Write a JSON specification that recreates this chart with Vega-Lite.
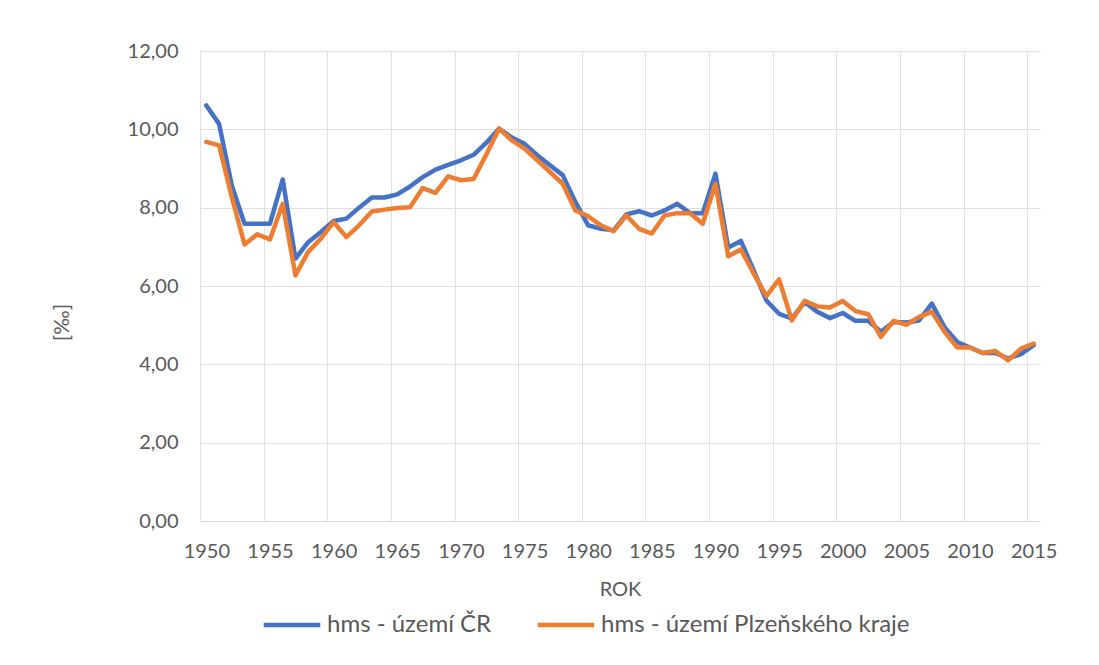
{
  "$schema": "https://vega.github.io/schema/vega-lite/v6.json",
  "width": 840,
  "height": 470,
  "autosize": "none",
  "padding": {"left": 200, "top": 51, "right": 59, "bottom": 144},
  "background": "white",
  "config": {"view": {"stroke": null}, "font": "Lato"},
  "data": {
    "values": [
      {"rok": 1950, "serie": "hms - území ČR", "hodnota": 10.61},
      {"rok": 1951, "serie": "hms - území ČR", "hodnota": 10.14},
      {"rok": 1952, "serie": "hms - území ČR", "hodnota": 8.57},
      {"rok": 1953, "serie": "hms - území ČR", "hodnota": 7.59},
      {"rok": 1954, "serie": "hms - území ČR", "hodnota": 7.59},
      {"rok": 1955, "serie": "hms - území ČR", "hodnota": 7.59},
      {"rok": 1956, "serie": "hms - území ČR", "hodnota": 8.72},
      {"rok": 1957, "serie": "hms - území ČR", "hodnota": 6.70},
      {"rok": 1958, "serie": "hms - území ČR", "hodnota": 7.12},
      {"rok": 1959, "serie": "hms - území ČR", "hodnota": 7.38},
      {"rok": 1960, "serie": "hms - území ČR", "hodnota": 7.66},
      {"rok": 1961, "serie": "hms - území ČR", "hodnota": 7.72},
      {"rok": 1962, "serie": "hms - území ČR", "hodnota": 8.00},
      {"rok": 1963, "serie": "hms - území ČR", "hodnota": 8.26},
      {"rok": 1964, "serie": "hms - území ČR", "hodnota": 8.26},
      {"rok": 1965, "serie": "hms - území ČR", "hodnota": 8.34},
      {"rok": 1966, "serie": "hms - území ČR", "hodnota": 8.54},
      {"rok": 1967, "serie": "hms - území ČR", "hodnota": 8.78},
      {"rok": 1968, "serie": "hms - území ČR", "hodnota": 8.97},
      {"rok": 1969, "serie": "hms - území ČR", "hodnota": 9.09},
      {"rok": 1970, "serie": "hms - území ČR", "hodnota": 9.21},
      {"rok": 1971, "serie": "hms - území ČR", "hodnota": 9.35},
      {"rok": 1972, "serie": "hms - území ČR", "hodnota": 9.66},
      {"rok": 1973, "serie": "hms - území ČR", "hodnota": 10.02},
      {"rok": 1974, "serie": "hms - území ČR", "hodnota": 9.79},
      {"rok": 1975, "serie": "hms - území ČR", "hodnota": 9.63},
      {"rok": 1976, "serie": "hms - území ČR", "hodnota": 9.34},
      {"rok": 1977, "serie": "hms - území ČR", "hodnota": 9.08},
      {"rok": 1978, "serie": "hms - území ČR", "hodnota": 8.83},
      {"rok": 1979, "serie": "hms - území ČR", "hodnota": 8.14},
      {"rok": 1980, "serie": "hms - území ČR", "hodnota": 7.55},
      {"rok": 1981, "serie": "hms - území ČR", "hodnota": 7.46},
      {"rok": 1982, "serie": "hms - území ČR", "hodnota": 7.42},
      {"rok": 1983, "serie": "hms - území ČR", "hodnota": 7.83},
      {"rok": 1984, "serie": "hms - území ČR", "hodnota": 7.91},
      {"rok": 1985, "serie": "hms - území ČR", "hodnota": 7.80},
      {"rok": 1986, "serie": "hms - území ČR", "hodnota": 7.93},
      {"rok": 1987, "serie": "hms - území ČR", "hodnota": 8.10},
      {"rok": 1988, "serie": "hms - území ČR", "hodnota": 7.86},
      {"rok": 1989, "serie": "hms - území ČR", "hodnota": 7.86},
      {"rok": 1990, "serie": "hms - území ČR", "hodnota": 8.87},
      {"rok": 1991, "serie": "hms - území ČR", "hodnota": 6.98},
      {"rok": 1992, "serie": "hms - území ČR", "hodnota": 7.15},
      {"rok": 1993, "serie": "hms - území ČR", "hodnota": 6.40},
      {"rok": 1994, "serie": "hms - území ČR", "hodnota": 5.63},
      {"rok": 1995, "serie": "hms - území ČR", "hodnota": 5.29},
      {"rok": 1996, "serie": "hms - území ČR", "hodnota": 5.17},
      {"rok": 1997, "serie": "hms - území ČR", "hodnota": 5.59},
      {"rok": 1998, "serie": "hms - území ČR", "hodnota": 5.34},
      {"rok": 1999, "serie": "hms - území ČR", "hodnota": 5.18},
      {"rok": 2000, "serie": "hms - území ČR", "hodnota": 5.31},
      {"rok": 2001, "serie": "hms - území ČR", "hodnota": 5.11},
      {"rok": 2002, "serie": "hms - území ČR", "hodnota": 5.11},
      {"rok": 2003, "serie": "hms - území ČR", "hodnota": 4.83},
      {"rok": 2004, "serie": "hms - území ČR", "hodnota": 5.08},
      {"rok": 2005, "serie": "hms - území ČR", "hodnota": 5.07},
      {"rok": 2006, "serie": "hms - území ČR", "hodnota": 5.12},
      {"rok": 2007, "serie": "hms - území ČR", "hodnota": 5.55},
      {"rok": 2008, "serie": "hms - území ČR", "hodnota": 4.95},
      {"rok": 2009, "serie": "hms - území ČR", "hodnota": 4.57},
      {"rok": 2010, "serie": "hms - území ČR", "hodnota": 4.43},
      {"rok": 2011, "serie": "hms - území ČR", "hodnota": 4.29},
      {"rok": 2012, "serie": "hms - území ČR", "hodnota": 4.29},
      {"rok": 2013, "serie": "hms - území ČR", "hodnota": 4.15},
      {"rok": 2014, "serie": "hms - území ČR", "hodnota": 4.26},
      {"rok": 2015, "serie": "hms - území ČR", "hodnota": 4.49},
      {"rok": 1950, "serie": "hms - území Plzeňského kraje", "hodnota": 9.68},
      {"rok": 1951, "serie": "hms - území Plzeňského kraje", "hodnota": 9.59},
      {"rok": 1952, "serie": "hms - území Plzeňského kraje", "hodnota": 8.27},
      {"rok": 1953, "serie": "hms - území Plzeňského kraje", "hodnota": 7.06},
      {"rok": 1954, "serie": "hms - území Plzeňského kraje", "hodnota": 7.32},
      {"rok": 1955, "serie": "hms - území Plzeňského kraje", "hodnota": 7.19},
      {"rok": 1956, "serie": "hms - území Plzeňského kraje", "hodnota": 8.10},
      {"rok": 1957, "serie": "hms - území Plzeňského kraje", "hodnota": 6.27},
      {"rok": 1958, "serie": "hms - území Plzeňského kraje", "hodnota": 6.87},
      {"rok": 1959, "serie": "hms - území Plzeňského kraje", "hodnota": 7.21},
      {"rok": 1960, "serie": "hms - území Plzeňského kraje", "hodnota": 7.63},
      {"rok": 1961, "serie": "hms - území Plzeňského kraje", "hodnota": 7.25},
      {"rok": 1962, "serie": "hms - území Plzeňského kraje", "hodnota": 7.55},
      {"rok": 1963, "serie": "hms - území Plzeňského kraje", "hodnota": 7.90},
      {"rok": 1964, "serie": "hms - území Plzeňského kraje", "hodnota": 7.95},
      {"rok": 1965, "serie": "hms - území Plzeňského kraje", "hodnota": 7.99},
      {"rok": 1966, "serie": "hms - území Plzeňského kraje", "hodnota": 8.01},
      {"rok": 1967, "serie": "hms - území Plzeňského kraje", "hodnota": 8.50},
      {"rok": 1968, "serie": "hms - území Plzeňského kraje", "hodnota": 8.38},
      {"rok": 1969, "serie": "hms - území Plzeňského kraje", "hodnota": 8.80},
      {"rok": 1970, "serie": "hms - území Plzeňského kraje", "hodnota": 8.70},
      {"rok": 1971, "serie": "hms - území Plzeňského kraje", "hodnota": 8.73},
      {"rok": 1972, "serie": "hms - území Plzeňského kraje", "hodnota": 9.36},
      {"rok": 1973, "serie": "hms - území Plzeňského kraje", "hodnota": 10.02},
      {"rok": 1974, "serie": "hms - území Plzeňského kraje", "hodnota": 9.72},
      {"rok": 1975, "serie": "hms - území Plzeňského kraje", "hodnota": 9.51},
      {"rok": 1976, "serie": "hms - území Plzeňského kraje", "hodnota": 9.21},
      {"rok": 1977, "serie": "hms - území Plzeňského kraje", "hodnota": 8.91},
      {"rok": 1978, "serie": "hms - území Plzeňského kraje", "hodnota": 8.61},
      {"rok": 1979, "serie": "hms - území Plzeňského kraje", "hodnota": 7.93},
      {"rok": 1980, "serie": "hms - území Plzeňského kraje", "hodnota": 7.78},
      {"rok": 1981, "serie": "hms - území Plzeňského kraje", "hodnota": 7.55},
      {"rok": 1982, "serie": "hms - území Plzeňského kraje", "hodnota": 7.40},
      {"rok": 1983, "serie": "hms - území Plzeňského kraje", "hodnota": 7.80},
      {"rok": 1984, "serie": "hms - území Plzeňského kraje", "hodnota": 7.46},
      {"rok": 1985, "serie": "hms - území Plzeňského kraje", "hodnota": 7.34},
      {"rok": 1986, "serie": "hms - území Plzeňského kraje", "hodnota": 7.80},
      {"rok": 1987, "serie": "hms - území Plzeňského kraje", "hodnota": 7.86},
      {"rok": 1988, "serie": "hms - území Plzeňského kraje", "hodnota": 7.86},
      {"rok": 1989, "serie": "hms - území Plzeňského kraje", "hodnota": 7.59},
      {"rok": 1990, "serie": "hms - území Plzeňského kraje", "hodnota": 8.61},
      {"rok": 1991, "serie": "hms - území Plzeňského kraje", "hodnota": 6.76},
      {"rok": 1992, "serie": "hms - území Plzeňského kraje", "hodnota": 6.93},
      {"rok": 1993, "serie": "hms - území Plzeňského kraje", "hodnota": 6.32},
      {"rok": 1994, "serie": "hms - území Plzeňského kraje", "hodnota": 5.74},
      {"rok": 1995, "serie": "hms - území Plzeňského kraje", "hodnota": 6.17},
      {"rok": 1996, "serie": "hms - území Plzeňského kraje", "hodnota": 5.12},
      {"rok": 1997, "serie": "hms - území Plzeňského kraje", "hodnota": 5.62},
      {"rok": 1998, "serie": "hms - území Plzeňského kraje", "hodnota": 5.48},
      {"rok": 1999, "serie": "hms - území Plzeňského kraje", "hodnota": 5.45},
      {"rok": 2000, "serie": "hms - území Plzeňského kraje", "hodnota": 5.62},
      {"rok": 2001, "serie": "hms - území Plzeňského kraje", "hodnota": 5.36},
      {"rok": 2002, "serie": "hms - území Plzeňského kraje", "hodnota": 5.28},
      {"rok": 2003, "serie": "hms - území Plzeňského kraje", "hodnota": 4.70},
      {"rok": 2004, "serie": "hms - území Plzeňského kraje", "hodnota": 5.11},
      {"rok": 2005, "serie": "hms - území Plzeňského kraje", "hodnota": 5.01},
      {"rok": 2006, "serie": "hms - území Plzeňského kraje", "hodnota": 5.21},
      {"rok": 2007, "serie": "hms - území Plzeňského kraje", "hodnota": 5.34},
      {"rok": 2008, "serie": "hms - území Plzeňského kraje", "hodnota": 4.83},
      {"rok": 2009, "serie": "hms - území Plzeňského kraje", "hodnota": 4.43},
      {"rok": 2010, "serie": "hms - území Plzeňského kraje", "hodnota": 4.43},
      {"rok": 2011, "serie": "hms - území Plzeňského kraje", "hodnota": 4.29},
      {"rok": 2012, "serie": "hms - území Plzeňského kraje", "hodnota": 4.34},
      {"rok": 2013, "serie": "hms - území Plzeňského kraje", "hodnota": 4.10},
      {"rok": 2014, "serie": "hms - území Plzeňského kraje", "hodnota": 4.40},
      {"rok": 2015, "serie": "hms - území Plzeňského kraje", "hodnota": 4.53}
    ]
  },
  "mark": {"type": "line", "strokeWidth": 4.5, "strokeJoin": "round", "strokeCap": "round"},
  "encoding": {
    "x": {
      "field": "rok",
      "type": "quantitative",
      "scale": {"domain": [1949.5, 2015.5], "nice": false, "zero": false},
      "axis": {
        "values": [1949.5, 1954.5, 1959.5, 1964.5, 1969.5, 1974.5, 1979.5, 1984.5, 1989.5, 1994.5, 1999.5, 2004.5, 2009.5, 2014.5],
        "labelExpr": "format(datum.value + 0.5, 'd')",
        "labelOffset": 6.36,
        "labelFlush": false,
        "labelOverlap": false,
        "ticks": false,
        "tickSize": 0,
        "grid": true,
        "gridColor": "#E0E0E0",
        "gridWidth": 1,
        "domainColor": "#D9D9D9",
        "domainWidth": 1,
        "labelFont": "Lato",
        "labelFontSize": 20,
        "labelColor": "#595959",
        "labelPadding": 20,
        "title": "ROK",
        "titleFont": "Lato",
        "titleFontSize": 20,
        "titleFontWeight": "normal",
        "titleColor": "#595959",
        "titleY": 68,
        "titleBaseline": "middle"
      }
    },
    "y": {
      "field": "hodnota",
      "type": "quantitative",
      "scale": {"domain": [0, 12], "nice": false},
      "axis": {
        "values": [0, 2, 4, 6, 8, 10, 12],
        "labelExpr": "replace(format(datum.value, '.2f'), '.', ',')",
        "ticks": false,
        "tickSize": 0,
        "domain": false,
        "grid": true,
        "gridColor": "#E0E0E0",
        "gridWidth": 1,
        "labelFont": "Lato",
        "labelFontSize": 20,
        "labelColor": "#595959",
        "labelPadding": 22,
        "title": "[‰]",
        "titleFont": "Lato",
        "titleFontSize": 21,
        "titleFontWeight": "normal",
        "titleColor": "#595959",
        "titleX": -138,
        "titleY": 271,
        "titleAngle": -90,
        "titleAlign": "center",
        "titleBaseline": "middle"
      }
    },
    "color": {
      "field": "serie",
      "type": "nominal",
      "scale": {"domain": ["hms - území ČR", "hms - území Plzeňského kraje"], "range": ["#4472C4", "#ED7D31"]},
      "legend": {
        "orient": "none",
        "legendX": 61,
        "legendY": 543,
        "direction": "horizontal",
        "title": null,
        "symbolType": "stroke",
        "symbolSize": 3200,
        "symbolStrokeWidth": 4.5,
        "labelFont": "Lato",
        "labelFontSize": 24,
        "labelColor": "#595959",
        "labelOffset": 4,
        "columnPadding": 36,
        "labelLimit": 600
      }
    }
  }
}
